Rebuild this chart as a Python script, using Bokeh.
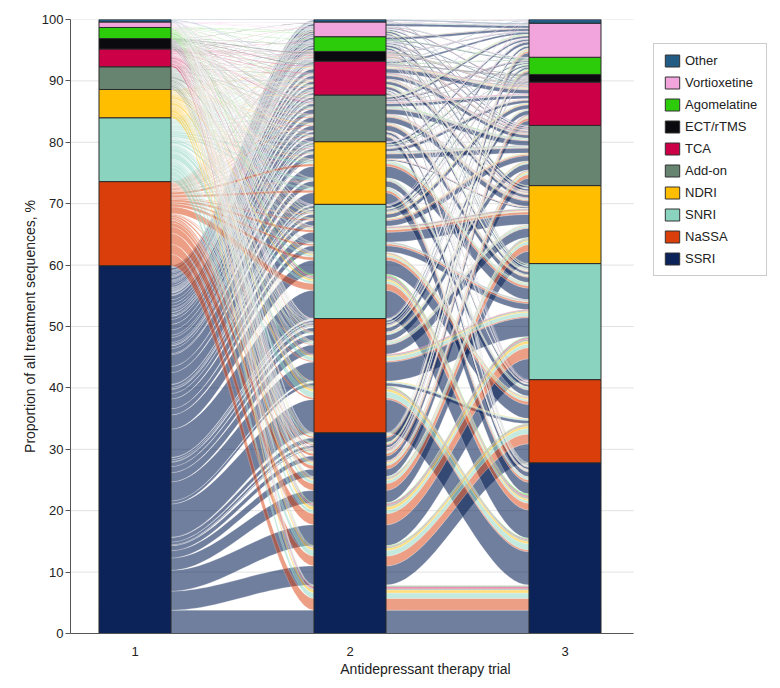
import numpy as np
from bokeh.plotting import figure
from bokeh.models import Range1d, Legend, LegendItem, FixedTicker, ColumnDataSource
from bokeh.embed import file_html
from bokeh.resources import INLINE

# ---------------- data ----------------
categories = ["SSRI", "NaSSA", "SNRI", "NDRI", "Add-on", "TCA",
              "ECT/rTMS", "Agomelatine", "Vortioxetine", "Other"]
codes = ["S", "N", "SN", "ND", "A", "T", "E", "Ag", "V", "O"]
colors = ["#0b2358", "#da3f0b", "#8ad3bf", "#ffbe00", "#678470", "#cc0047",
          "#0a0a0f", "#2dcc0a", "#f2a5dd", "#225b84"]
trials = [1, 2, 3]
trial_labels = ["1", "2", "3"]
y_ticks = [0, 10, 20, 30, 40, 50, 60, 70, 80, 90, 100]

# treatment sequences "trial1>trial2>trial3", % of all sequences
# grouped by the class used at trial 2
flows_via_SSRI = [
    ("S>S>S", 3.8), ("N>S>S", 1.9), ("SN>S>S", 0.9), ("ND>S>S", 0.5), ("A>S>S", 0.2),
    ("T>S>S", 0.3), ("E>S>S", 0.1), ("Ag>S>S", 0.1), ("V>S>S", 0.1),
    ("S>S>N", 3.1), ("S>S>SN", 3.4), ("S>S>ND", 2.0), ("S>S>A", 1.2), ("S>S>T", 0.8),
    ("S>S>E", 0.15), ("S>S>Ag", 0.45), ("S>S>V", 0.75), ("S>S>O", 0.05),
    ("N>S>N", 1.6), ("N>S>SN", 1.8), ("N>S>ND", 1.1), ("N>S>A", 0.6), ("N>S>T", 0.4),
    ("N>S>E", 0.05), ("N>S>Ag", 0.2), ("N>S>V", 0.25),
    ("SN>S>N", 0.9), ("SN>S>SN", 0.6), ("SN>S>ND", 0.5), ("SN>S>A", 0.3), ("SN>S>T", 0.2),
    ("SN>S>Ag", 0.1), ("SN>S>V", 0.2),
    ("ND>S>N", 0.4), ("ND>S>SN", 0.5), ("ND>S>ND", 0.2), ("ND>S>A", 0.2), ("ND>S>T", 0.1),
    ("ND>S>Ag", 0.05), ("ND>S>V", 0.15),
    ("A>S>N", 0.2), ("A>S>SN", 0.3), ("A>S>ND", 0.2), ("A>S>A", 0.1), ("A>S>T", 0.1), ("A>S>V", 0.1),
    ("T>S>N", 0.1), ("T>S>SN", 0.2), ("T>S>ND", 0.1), ("T>S>A", 0.1), ("T>S>T", 0.1),
    ("E>S>SN", 0.1), ("E>S>A", 0.05), ("E>S>T", 0.05), ("E>S>E", 0.1),
    ("Ag>S>N", 0.1), ("Ag>S>SN", 0.1), ("Ag>S>ND", 0.1), ("Ag>S>Ag", 0.1),
    ("V>S>V", 0.05), ("V>S>E", 0.05), ("O>S>O", 0.05), ("O>S>ND", 0.05),
]
flows_via_NaSSA = [
    ("S>N>S", 5.4), ("S>N>N", 0.5), ("S>N>SN", 3.1), ("S>N>ND", 1.5), ("S>N>A", 1.0),
    ("S>N>T", 0.7), ("S>N>E", 0.1), ("S>N>Ag", 0.3), ("S>N>V", 0.35), ("S>N>O", 0.05),
    ("N>N>S", 0.3), ("N>N>SN", 0.2), ("N>N>ND", 0.1),
    ("SN>N>S", 1.0), ("SN>N>N", 0.2), ("SN>N>SN", 0.6), ("SN>N>ND", 0.3), ("SN>N>A", 0.2),
    ("SN>N>T", 0.1), ("SN>N>Ag", 0.05), ("SN>N>V", 0.05),
    ("ND>N>S", 0.4), ("ND>N>N", 0.1), ("ND>N>SN", 0.2), ("ND>N>ND", 0.1), ("ND>N>A", 0.1), ("ND>N>T", 0.1),
    ("A>N>S", 0.2), ("A>N>SN", 0.2), ("A>N>ND", 0.1), ("A>N>T", 0.05), ("A>N>V", 0.05),
    ("T>N>S", 0.1), ("T>N>SN", 0.1), ("T>N>A", 0.1), ("T>N>E", 0.05), ("T>N>O", 0.05),
    ("E>N>S", 0.1), ("E>N>E", 0.05), ("E>N>Ag", 0.05),
    ("Ag>N>S", 0.1), ("Ag>N>V", 0.05), ("Ag>N>A", 0.05),
    ("V>N>ND", 0.05), ("V>N>V", 0.05),
]
flows_via_SNRI = [
    ("S>SN>S", 4.6), ("S>SN>N", 2.3), ("S>SN>SN", 1.0), ("S>SN>ND", 1.6), ("S>SN>A", 0.9),
    ("S>SN>T", 0.65), ("S>SN>E", 0.1), ("S>SN>Ag", 0.25), ("S>SN>V", 0.45), ("S>SN>O", 0.05),
    ("N>SN>S", 1.1), ("N>SN>N", 0.5), ("N>SN>SN", 0.3), ("N>SN>ND", 0.4), ("N>SN>A", 0.2), ("N>SN>T", 0.1),
    ("SN>SN>S", 0.4), ("SN>SN>N", 0.3), ("SN>SN>SN", 0.1), ("SN>SN>ND", 0.1), ("SN>SN>A", 0.1),
    ("ND>SN>S", 0.3), ("ND>SN>N", 0.2), ("ND>SN>ND", 0.1), ("ND>SN>A", 0.1), ("ND>SN>T", 0.1),
    ("A>SN>S", 0.3), ("A>SN>N", 0.1), ("A>SN>SN", 0.1), ("A>SN>ND", 0.1), ("A>SN>T", 0.05), ("A>SN>V", 0.05),
    ("T>SN>S", 0.2), ("T>SN>N", 0.1), ("T>SN>ND", 0.1), ("T>SN>E", 0.05), ("T>SN>V", 0.05),
    ("E>SN>S", 0.1), ("E>SN>SN", 0.05), ("E>SN>ND", 0.1), ("E>SN>E", 0.05),
    ("Ag>SN>S", 0.2), ("Ag>SN>N", 0.1), ("Ag>SN>ND", 0.05), ("Ag>SN>Ag", 0.1), ("Ag>SN>T", 0.05),
    ("V>SN>N", 0.05), ("V>SN>ND", 0.05), ("V>SN>Ag", 0.05), ("V>SN>O", 0.05),
    ("O>SN>SN", 0.05), ("O>SN>V", 0.05),
]
flows_via_NDRI = [
    ("S>ND>S", 1.9), ("S>ND>N", 1.0), ("S>ND>SN", 1.9), ("S>ND>ND", 0.2), ("S>ND>A", 0.8),
    ("S>ND>T", 0.45), ("S>ND>E", 0.05), ("S>ND>Ag", 0.2), ("S>ND>V", 0.3),
    ("N>ND>S", 0.4), ("N>ND>N", 0.1), ("N>ND>SN", 0.4), ("N>ND>A", 0.1), ("N>ND>T", 0.1),
    ("SN>ND>S", 0.3), ("SN>ND>N", 0.3), ("SN>ND>SN", 0.3), ("SN>ND>A", 0.15), ("SN>ND>T", 0.05), ("SN>ND>V", 0.1),
    ("ND>ND>SN", 0.05), ("ND>ND>ND", 0.05),
    ("A>ND>S", 0.1), ("A>ND>SN", 0.1), ("A>ND>A", 0.1), ("A>ND>T", 0.05), ("A>ND>Ag", 0.05),
    ("T>ND>S", 0.05), ("T>ND>N", 0.05), ("T>ND>ND", 0.05), ("T>ND>V", 0.05),
    ("E>ND>E", 0.05), ("E>ND>A", 0.05),
    ("Ag>ND>S", 0.05), ("Ag>ND>N", 0.05), ("Ag>ND>SN", 0.05), ("Ag>ND>Ag", 0.05),
    ("V>ND>V", 0.05), ("V>ND>T", 0.05),
]
flows_via_Addon = [
    ("S>A>S", 0.8), ("S>A>N", 0.4), ("S>A>SN", 0.85), ("S>A>ND", 0.9), ("S>A>A", 0.8),
    ("S>A>T", 0.5), ("S>A>E", 0.05), ("S>A>Ag", 0.2), ("S>A>V", 0.35), ("S>A>O", 0.05),
    ("N>A>S", 0.1), ("N>A>SN", 0.15), ("N>A>ND", 0.15), ("N>A>A", 0.1), ("N>A>T", 0.05), ("N>A>V", 0.05),
    ("SN>A>S", 0.15), ("SN>A>N", 0.1), ("SN>A>SN", 0.1), ("SN>A>ND", 0.15), ("SN>A>A", 0.15),
    ("SN>A>T", 0.1), ("SN>A>V", 0.05),
    ("ND>A>S", 0.05), ("ND>A>N", 0.05), ("ND>A>SN", 0.1), ("ND>A>ND", 0.05), ("ND>A>V", 0.05),
    ("A>A>SN", 0.05), ("A>A>ND", 0.1), ("A>A>A", 0.1), ("A>A>V", 0.05),
    ("T>A>S", 0.05), ("T>A>N", 0.05), ("T>A>ND", 0.05), ("T>A>T", 0.1), ("T>A>Ag", 0.05),
    ("E>A>S", 0.05), ("E>A>SN", 0.05), ("E>A>E", 0.05), ("E>A>Ag", 0.05),
    ("Ag>A>A", 0.05), ("Ag>A>V", 0.05), ("V>A>T", 0.05), ("V>A>O", 0.05),
]
flows_via_TCA = [
    ("S>T>S", 0.35), ("S>T>N", 0.2), ("S>T>SN", 0.45), ("S>T>ND", 0.5), ("S>T>A", 0.55),
    ("S>T>T", 0.65), ("S>T>E", 0.1), ("S>T>Ag", 0.05), ("S>T>V", 0.3), ("S>T>O", 0.05),
    ("N>T>S", 0.1), ("N>T>SN", 0.1), ("N>T>ND", 0.1), ("N>T>A", 0.1), ("N>T>T", 0.1),
    ("SN>T>S", 0.1), ("SN>T>N", 0.05), ("SN>T>SN", 0.1), ("SN>T>ND", 0.1), ("SN>T>A", 0.1), ("SN>T>T", 0.15),
    ("ND>T>SN", 0.05), ("ND>T>ND", 0.05), ("ND>T>T", 0.1),
    ("A>T>S", 0.05), ("A>T>SN", 0.05), ("A>T>ND", 0.05), ("A>T>A", 0.1), ("A>T>T", 0.05),
    ("T>T>N", 0.05), ("T>T>ND", 0.05), ("T>T>A", 0.1), ("T>T>T", 0.1),
    ("E>T>ND", 0.05), ("E>T>A", 0.05), ("E>T>E", 0.1),
    ("Ag>T>SN", 0.05), ("Ag>T>Ag", 0.05), ("O>T>O", 0.05), ("O>T>T", 0.05),
]
flows_via_ECT = [
    ("S>E>S", 0.05), ("S>E>N", 0.05), ("S>E>SN", 0.1), ("S>E>ND", 0.1), ("S>E>A", 0.15),
    ("S>E>T", 0.1), ("S>E>V", 0.1),
    ("N>E>A", 0.1), ("N>E>T", 0.1), ("SN>E>SN", 0.05), ("SN>E>A", 0.1), ("SN>E>V", 0.05),
    ("ND>E>ND", 0.05), ("A>E>S", 0.05), ("A>E>T", 0.05),
    ("T>E>N", 0.05), ("T>E>ND", 0.05), ("T>E>A", 0.05), ("T>E>V", 0.05),
    ("E>E>SN", 0.05), ("E>E>T", 0.05), ("E>E>E", 0.1),
]
flows_via_Agomelatine = [
    ("S>Ag>S", 0.15), ("S>Ag>N", 0.1), ("S>Ag>SN", 0.3), ("S>Ag>ND", 0.35), ("S>Ag>A", 0.2),
    ("S>Ag>T", 0.15), ("S>Ag>Ag", 0.15), ("S>Ag>V", 0.4),
    ("N>Ag>ND", 0.05), ("N>Ag>V", 0.05), ("SN>Ag>SN", 0.05), ("SN>Ag>ND", 0.05),
    ("SN>Ag>A", 0.05), ("SN>Ag>T", 0.05), ("ND>Ag>S", 0.05), ("A>Ag>V", 0.05),
    ("T>Ag>A", 0.05), ("E>Ag>ND", 0.05), ("Ag>Ag>SN", 0.05), ("Ag>Ag>Ag", 0.05),
]
flows_via_Vortioxetine = [
    ("S>V>S", 0.15), ("S>V>N", 0.1), ("S>V>SN", 0.2), ("S>V>ND", 0.3), ("S>V>A", 0.2),
    ("S>V>T", 0.15), ("S>V>Ag", 0.1), ("S>V>V", 0.4), ("S>V>O", 0.05),
    ("N>V>SN", 0.05), ("N>V>ND", 0.05), ("SN>V>S", 0.05), ("SN>V>A", 0.05), ("SN>V>V", 0.1),
    ("A>V>Ag", 0.05), ("T>V>T", 0.05), ("E>V>V", 0.05), ("Ag>V>SN", 0.05), ("Ag>V>ND", 0.05),
    ("V>V>A", 0.05), ("V>V>Ag", 0.05), ("V>V>V", 0.05), ("V>V>O", 0.05),
]
flows_via_Other = [
    ("S>O>SN", 0.1), ("S>O>A", 0.1), ("S>O>V", 0.1), ("O>O>V", 0.1),
]

# ---------------- layout computation ----------------
FONT = "Liberation Sans"
idx = {c: i for i, c in enumerate(codes)}
all_flows = (flows_via_SSRI + flows_via_NaSSA + flows_via_SNRI + flows_via_NDRI +
             flows_via_Addon + flows_via_TCA + flows_via_ECT + flows_via_Agomelatine +
             flows_via_Vortioxetine + flows_via_Other)
seqs = [tuple(idx[c] for c in path.split(">")) for path, _ in all_flows]
pcts = [pct for _, pct in all_flows]
n = len(seqs)
nk = len(categories)

# stratum totals per trial
totals = [[0.0] * nk for _ in trials]
for s, w in zip(seqs, pcts):
    for a in range(3):
        totals[a][s[a]] += w

# lode ordering within strata (zigzag guidance)
orders = [lambda s: (s[0], s[1], s[2]),
          lambda s: (s[1], s[2], s[0]),
          lambda s: (s[2], s[1], s[0])]
lode_bottom = [[0.0] * n for _ in trials]
for a in range(3):
    acc = 0.0
    for i in sorted(range(n), key=lambda i: orders[a](seqs[i])):
        lode_bottom[a][i] = acc
        acc += pcts[i]

half = 0.335 / 2
X_LO, X_HI = 0.70, 3.32
t = np.linspace(0, 1, 30)
ease = 3 * t ** 2 - 2 * t ** 3

def edge(ys):
    xs_, ys_ = [], []
    for a in range(3):
        xs_ += [trials[a] - half, trials[a] + half]
        ys_ += [ys[a], ys[a]]
        if a < 2:
            x0, x1 = trials[a] + half, trials[a + 1] - half
            xs_ += list(x0 + (x1 - x0) * t[1:-1])
            ys_ += list(ys[a] + (ys[a + 1] - ys[a]) * ease[1:-1])
    return xs_, ys_

draw_order = sorted(range(n), key=lambda i: seqs[i])
fx, fy, fc, fa = [], [], [], []
for i in draw_order:
    bot = [lode_bottom[a][i] for a in range(3)]
    top = [b + pcts[i] for b in bot]
    xt, yt = edge(top)
    xb, yb = edge(bot)
    fx.append(xt + xb[::-1])
    fy.append(yt + yb[::-1])
    fc.append(colors[seqs[i][0]])
    fa.append(0.58 if seqs[i][0] == 0 else 0.5)

# ---------------- figure ----------------
# frame spans the whole width right of the y axis; the chart area is X_LO..X_HI,
# the remaining part of the frame holds the legend
p = figure(width=780, height=688, x_range=Range1d(X_LO, X_LO + 710 / 215), y_range=Range1d(0, 100),
           output_backend="svg", toolbar_location=None,
           min_border_left=70, min_border_right=0, min_border_top=19, min_border_bottom=55)
p.outline_line_color = None
p.background_fill_color = "white"
p.xgrid.visible = False
p.ygrid.visible = False

# horizontal grid lines limited to the chart area
p.segment(x0=[X_LO] * len(y_ticks), x1=[X_HI] * len(y_ticks), y0=y_ticks, y1=y_ticks,
          line_color="#e2e2e2", line_width=1)

p.patches(xs="xs", ys="ys", source=ColumnDataSource(dict(xs=fx, ys=fy, c=fc, a=fa)),
          fill_color="c", fill_alpha="a", line_color="white", line_alpha=0.45, line_width=0.5)

bl, br, bb, bt, bc = [], [], [], [], []
for a in range(3):
    acc = 0.0
    for k in range(nk):
        bl.append(trials[a] - half); br.append(trials[a] + half)
        bb.append(acc); bt.append(acc + totals[a][k]); bc.append(colors[k])
        acc += totals[a][k]
p.quad(left=bl, right=br, bottom=bb, top=bt, fill_color=bc, line_color="#2b2b2b", line_width=1)

# axes
p.xaxis.ticker = FixedTicker(ticks=trials)
p.xaxis.bounds = (X_LO, X_HI)
p.xaxis.major_label_overrides = {tv: lab for tv, lab in zip(trials, trial_labels)}
p.yaxis.ticker = FixedTicker(ticks=y_ticks)
for ax in (p.xaxis, p.yaxis):
    ax.axis_line_color = "#555555"
    ax.major_label_text_font = FONT
    ax.major_label_text_font_size = "13px"
    ax.major_label_text_color = "#222222"
    ax.axis_label_text_font = FONT
    ax.axis_label_text_font_size = "14px"
    ax.axis_label_text_font_style = "normal"
    ax.axis_label_text_color = "#222222"
    ax.minor_tick_line_color = None
p.xaxis.major_tick_line_color = None
p.xaxis.major_label_standoff = 7
p.xaxis.axis_label = "Antidepressant therapy trial"
p.xaxis.axis_label_standoff = 2
p.yaxis.major_tick_line_color = "#555555"
p.yaxis.major_tick_out = 5
p.yaxis.major_tick_in = 0
p.yaxis.major_label_standoff = 2
p.yaxis.axis_label = "Proportion of all treatment sequences, %"
p.yaxis.axis_label_standoff = 1

# legend
nan = float("nan")
items = []
for k in reversed(range(nk)):
    r = p.quad(left=[nan], right=[nan], top=[nan], bottom=[nan],
               fill_color=colors[k], line_color="#333333")
    items.append(LegendItem(label=categories[k], renderers=[r]))
legend = Legend(items=items, location=(583, 357), margin=0, padding=9, spacing=7,
                glyph_width=18, glyph_height=15, label_height=15, label_width=66, label_standoff=4,
                label_text_font=FONT, label_text_font_size="13px", label_text_color="#222222",
                border_line_color="#999999", border_line_width=1, background_fill_alpha=1)
p.add_layout(legend, "center")

open("out.html", "w").write(file_html(p, INLINE))
